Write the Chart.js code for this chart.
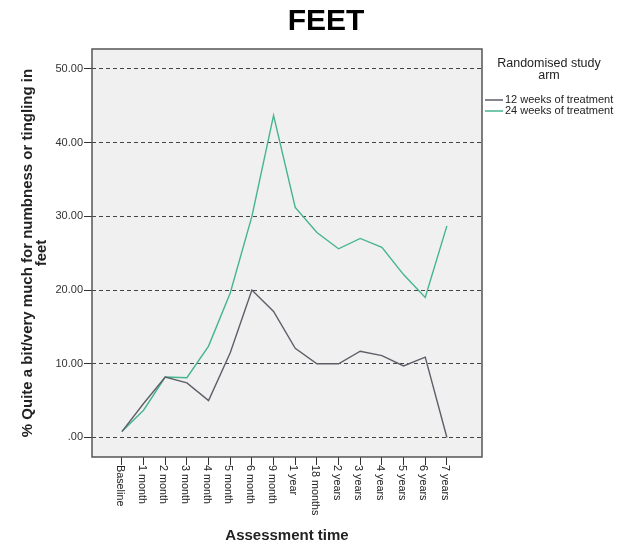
<!DOCTYPE html>
<html>
<head>
<meta charset="utf-8">
<script src="https://cdn.jsdelivr.net/npm/chart.js@4"></script>
<style>
  html, body { margin: 0; padding: 0; background: #fff; }
  #wrap { width: 620px; height: 545px; }
</style>
</head>
<body>
<div id="wrap"><canvas id="grafico" width="620" height="545"></canvas></div>
<script>
// Dados
const tempos = ['Baseline', '1 month', '2 month', '3 month', '4 month', '5 month', '6 month',
  '9 month', '1 year', '18 months', '2 years', '3 years', '4 years', '5 years', '6 years', '7 years'];
const semanas12 = [0.8, 4.6, 8.2, 7.4, 5.0, 11.5, 20.0, 17.1, 12.1, 10.0, 10.0, 11.7, 11.1, 9.7, 10.9, 0.0];
const semanas24 = [0.8, 3.7, 8.2, 8.1, 12.4, 19.6, 30.0, 43.7, 31.2, 27.8, 25.6, 27.0, 25.8, 22.1, 19.0, 28.7];
const ticksY = [0, 10, 20, 30, 40, 50];
const nomesSeries = ['12 weeks of treatment', '24 weeks of treatment'];
const cores = ['#5e5e68', '#45b58e'];

const pontos = arr => arr.map((v, i) => ({ x: i, y: v }));

// Fundo cinza e moldura da área do gráfico
const molduraPlugin = {
  id: 'moldura',
  beforeDraw(chart) {
    const { ctx, chartArea: a } = chart;
    ctx.save();
    ctx.fillStyle = '#f0f0f0';
    ctx.fillRect(a.left, a.top, a.right - a.left, a.bottom - a.top);
    ctx.restore();
  },
  afterDraw(chart) {
    const { ctx, chartArea: a, scales } = chart;
    ctx.save();
    ctx.strokeStyle = '#555';
    ctx.lineWidth = 1.5;
    ctx.strokeRect(a.left, a.top, a.right - a.left, a.bottom - a.top);

    // Título
    ctx.fillStyle = '#000';
    ctx.font = 'bold 30px "Liberation Sans", Arial, sans-serif';
    ctx.textAlign = 'center';
    ctx.textBaseline = 'alphabetic';
    ctx.fillText('FEET', 326, 30);

    // Rótulos do eixo x, girados no sentido horário
    ctx.font = '10.8px "Liberation Sans", Arial, sans-serif';
    ctx.fillStyle = '#222';
    ctx.textAlign = 'left';
    ctx.textBaseline = 'middle';
    tempos.forEach((t, i) => {
      const px = scales.x.getPixelForValue(i);
      ctx.save();
      ctx.translate(px - 2, a.bottom + 8);
      ctx.rotate(Math.PI / 2);
      ctx.fillText(t, 0, 0);
      ctx.restore();
    });

    // Legenda
    ctx.fillStyle = '#222';
    ctx.textAlign = 'center';
    ctx.font = '12.5px "Liberation Sans", Arial, sans-serif';
    ctx.fillText('Randomised study', 549, 64);
    ctx.fillText('arm', 549, 76);
    ctx.textAlign = 'left';
    ctx.font = '11px "Liberation Sans", Arial, sans-serif';
    nomesSeries.forEach((n, i) => {
      const y = 100 + i * 11;
      ctx.strokeStyle = cores[i];
      ctx.lineWidth = 1.5;
      ctx.beginPath();
      ctx.moveTo(485, y);
      ctx.lineTo(503, y);
      ctx.stroke();
      ctx.fillText(n, 505, y);
    });
    ctx.restore();
  }
};

const ctx = document.getElementById('grafico').getContext('2d');
new Chart(ctx, {
  type: 'line',
  data: {
    datasets: [
      { label: nomesSeries[0], data: pontos(semanas12), borderColor: cores[0], borderWidth: 1.4, pointRadius: 0, tension: 0 },
      { label: nomesSeries[1], data: pontos(semanas24), borderColor: cores[1], borderWidth: 1.4, pointRadius: 0, tension: 0 }
    ]
  },
  options: {
    responsive: false,
    animation: false,
    layout: { padding: { left: 0, right: 138, top: 49, bottom: 0 } },
    plugins: { legend: { display: false }, tooltip: { enabled: false } },
    scales: {
      x: {
        type: 'linear',
        min: -1.38,
        max: 16.62,
        afterBuildTicks: s => { s.ticks = tempos.map((t, i) => ({ value: i })); },
        afterFit: s => { s.height = 88; },
        ticks: { display: false },
        grid: { drawOnChartArea: false, drawTicks: true, tickLength: 8, tickColor: '#333', tickWidth: 1 },
        border: { display: false },
        title: {
          display: true,
          text: 'Assessment time',
          color: '#222',
          font: { family: '"Liberation Sans", Arial, sans-serif', size: 15, weight: 'bold' },
          padding: { top: 0, bottom: 0 }
        }
      },
      y: {
        min: -2.65,
        max: 52.7,
        afterBuildTicks: s => { s.ticks = ticksY.map(v => ({ value: v })); },
        afterFit: s => { s.width = 92; },
        ticks: {
          color: '#333',
          padding: 1,
          font: { family: '"Liberation Sans", Arial, sans-serif', size: 11 },
          callback: v => v === 0 ? '.00' : v.toFixed(2)
        },
        grid: { color: '#444', lineWidth: 1, tickLength: 8, tickColor: '#333', tickBorderDash: [] },
        border: { display: false, dash: [4, 3] },
        title: {
          display: true,
          text: ['% Quite a bit/very much for numbness or tingling in', 'feet'],
          color: '#222',
          font: { family: '"Liberation Sans", Arial, sans-serif', size: 15, weight: 'bold', lineHeight: 0.93 },
          padding: { top: 21, bottom: 0 }
        }
      }
    }
  },
  plugins: [molduraPlugin]
});
</script>
</body>
</html>
